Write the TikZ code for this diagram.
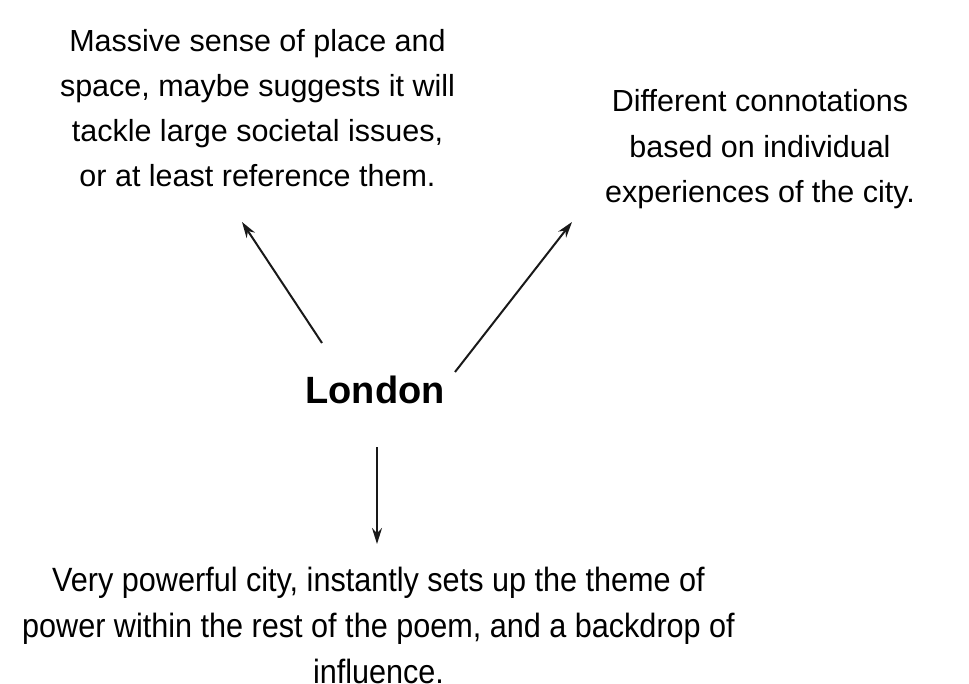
\documentclass[tikz,border=0pt]{standalone}
\usepackage{fontspec}
\setmainfont{Liberation Sans}
\usetikzlibrary{arrows.meta}
\begin{document}
\begin{tikzpicture}[x=1pt,y=-1pt,
  txt/.style={inner sep=0pt,text=black},
  arr/.style={line width=2pt,draw=black!90,-{Stealth[length=16pt,width=10pt]}}]
\useasboundingbox (0,0) rectangle (969,684);
\node[txt] (tl) at (257.5,110.5) {\fontsize{30.5}{45}\selectfont\begin{tabular}{@{}c@{}}Massive sense of place and\\space, maybe suggests it will\\tackle large societal issues,\\or at least reference them.\end{tabular}};
\node[txt] (tr) at (760,148) {\fontsize{30.5}{45.5}\selectfont\begin{tabular}{@{}c@{}}Different connotations\\based on individual\\experiences of the city.\end{tabular}};
\node[txt,font=\fontsize{38}{46}\selectfont\bfseries] (lon) at (375,390) {London};
\node[txt] (bt) at (378.5,628) {\scalebox{1}[1.1]{\fontsize{30.6}{42}\selectfont\begin{tabular}{@{}c@{}}Very powerful city, instantly sets up the theme of\\power within the rest of the poem, and a backdrop of\\influence.\end{tabular}}};
\coordinate (a1s) at (322,343);
\coordinate (a1e) at (242,222);
\coordinate (a2s) at (455,372);
\coordinate (a2e) at (572,222);
\coordinate (a3s) at (377,447);
\coordinate (a3e) at (377,544);
\draw[arr] (a1s) -- (a1e);
\draw[arr] (a2s) -- (a2e);
\draw[arr] (a3s) -- (a3e);
\end{tikzpicture}
\end{document}
